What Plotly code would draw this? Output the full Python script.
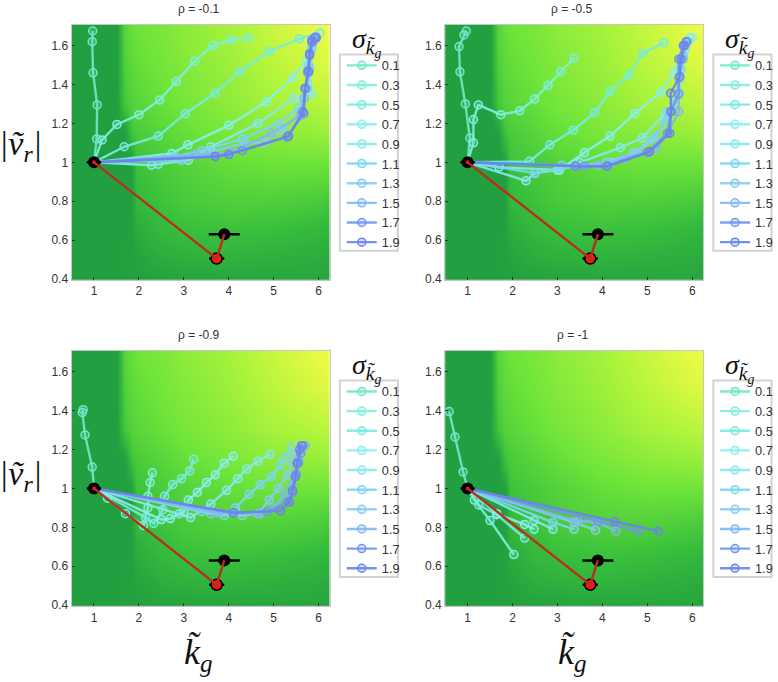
import plotly.graph_objects as go

W, H = 778, 682
sigma_labels = ["0.1","0.3","0.5","0.7","0.9","1.1","1.3","1.5","1.7","1.9"]
sigma_colors = ["#6fe8c8","#80eedc","#78ebe0","#8aeef0","#88e8f0","#7cd6f2","#88ccf2","#82b8f2","#7096ee","#6a84e8"]
rho_titles = ["ρ = -0.1","ρ = -0.5","ρ = -0.9","ρ = -1"]

bg_x = [0.5,1.5,1.68,1.83,1.95,2.5,3,4,5,6,6.25]
bg_y = [0.39,0.5,0.65,0.8,1.0,1.15,1.3,1.5,1.71]
bg_z = [
 [.03,.03,.03,.03,.04,.05,.06,.07,.08,.08,.06],
 [.03,.03,.04,.05,.06,.12,.14,.16,.14,.12,.10],
 [.03,.03,.03,.04,.12,.20,.24,.26,.24,.20,.18],
 [.03,.03,.03,.04,.20,.27,.32,.36,.36,.33,.30],
 [.03,.03,.03,.04,.27,.33,.38,.46,.50,.50,.50],
 [.03,.03,.03,.28,.33,.40,.46,.55,.62,.66,.68],
 [.03,.03,.30,.38,.40,.47,.53,.62,.72,.78,.80],
 [.03,.03,.36,.42,.45,.52,.58,.68,.80,.90,.93],
 [.03,.03,.40,.47,.50,.55,.62,.72,.85,.98,1.0],
]
bg_scale = [[0,"#1f9a40"],[.25,"#39c03c"],[.5,"#6fe43a"],[.75,"#aef43c"],[1,"#f2fb45"]]

kg_a = [
 [1,1.06,1.07,.98,.96,.97],
 [1,1.18,1.51,2,2.46,2.83,3.24,3.65,4.05,4.44],
 [1,1.67,2.43,3.03,3.69,4.24,4.9,5.57,6.03],
 [1,2.73,3.09,4.0,4.83,5.43,5.74,5.9],
 [1,2.28,2.43,3.1,3.6,4.65,5.45,5.85,5.8,5.85,5.9],
 [1,2.8,3.4,4.3,5.1,5.55,5.72,5.78,5.85,5.95],
 [1,2.95,3.55,4.35,4.8,5.2,5.58,5.75,5.8,5.85,5.9],
 [1,3.25,4.05,4.95,5.6,5.68,5.75,5.8,5.88,5.93],
 [1,3.7,4.3,5.3,5.67,5.7,5.76,5.8,5.85,5.95],
 [1,3.7,4.0,5.33,5.65,5.7,5.78,5.8,5.85,5.92],
]
vr_a = [
 [1,1.12,1.295,1.46,1.62,1.675],
 [1,1.115,1.195,1.245,1.32,1.415,1.52,1.6,1.63,1.64],
 [1,1.08,1.135,1.25,1.355,1.465,1.57,1.635,1.665],
 [1,1.045,1.09,1.19,1.31,1.435,1.53,1.63],
 [1,.985,.99,1.01,1.08,1.2,1.33,1.35,1.48,1.6,1.64],
 [1,1.03,1.06,1.12,1.2,1.28,1.38,1.5,1.6,1.64],
 [1,1.01,1.05,1.1,1.1,1.17,1.25,1.38,1.48,1.58,1.64],
 [1,1.04,1.05,1.15,1.24,1.33,1.46,1.56,1.62,1.645],
 [1,1.03,1.06,1.13,1.25,1.38,1.47,1.56,1.63,1.64],
 [1,1.03,1.04,1.135,1.26,1.38,1.465,1.55,1.62,1.64],
]
kg_b = [
 [1,1.05,.95,.83,.81,.92,.97],
 [1,1.13,1.13,1.24,1.74,2.16,2.49,2.79,3.07,3.37],
 [1,2.38,2.83,3.35,3.83,4.17,4.59,4.9,5.37],
 [1,1.7,3.05,3.6,4.17,4.72,5.3,5.6,5.85,6.0],
 [1,2.3,2.5,3.0,3.5,4.4,4.88,5.4,5.7,5.75,5.85,5.95],
 [1,2.5,3.4,4.1,4.7,5.1,5.42,5.6,5.72,5.8,5.9],
 [1,3.1,3.6,4.2,4.75,5.2,5.45,5.7,5.75,5.85],
 [1,3.4,3.9,4.5,5.2,5.45,5.7,5.7,5.8,5.87],
 [1,3.6,4.12,5.0,5.45,5.52,5.7,5.7,5.8],
 [1,3.4,4.1,5.05,5.5,5.53,5.52,5.72,5.75,5.82,5.87],
]
vr_b = [
 [1,1.125,1.3,1.465,1.595,1.655,1.675],
 [1,1.1,1.22,1.295,1.245,1.265,1.325,1.395,1.465,1.535],
 [1,1.005,1.09,1.165,1.255,1.365,1.45,1.56,1.615],
 [1,.975,.96,1.05,1.135,1.25,1.36,1.465,1.6,1.64],
 [1,.905,.945,.96,1.0,1.075,1.125,1.25,1.35,1.47,1.58,1.64],
 [1,.945,.98,1.0,1.05,1.12,1.21,1.3,1.43,1.55,1.62],
 [1,.985,.98,1.0,1.05,1.13,1.26,1.36,1.48,1.6],
 [1,.98,.985,1.02,1.07,1.15,1.26,1.43,1.53,1.62],
 [1,.98,.98,1.05,1.15,1.26,1.35,1.53,1.6],
 [1,.98,.98,1.055,1.15,1.26,1.355,1.44,1.53,1.6,1.62],
]
kg_c = [
 [1,.96,.8,.74,.76],
 [1,1.3,1.7,2.1,2.2,2.2,2.25,2.3],
 [1,2.15,2.33,2.53,2.57,2.75,2.95,3.13,3.22],
 [1,2.5,2.7,3.0,3.1,3.3,3.5,3.7,3.9,4.1],
 [1,2.9,3.15,3.6,3.95,4.2,4.4,4.65,4.92],
 [1,3.4,3.9,4.15,4.45,4.7,4.95,5.15,5.25,5.4],
 [1,3.6,4.3,4.65,4.9,5.1,5.3,5.42,5.5,5.62],
 [1,3.75,4.7,5.0,5.25,5.4,5.5,5.55,5.6,5.7],
 [1,4.1,4.85,5.3,5.42,5.5,5.55,5.6,5.65],
 [1,4.1,5.15,5.35,5.42,5.48,5.52,5.58,5.62],
]
vr_c = [
 [1,1.11,1.275,1.39,1.405],
 [1,.95,.87,.81,.9,.96,1.03,1.08],
 [1,.85,.82,.89,.96,1.02,1.05,1.09,1.15],
 [1,.84,.845,.88,.94,.98,1.03,1.07,1.13,1.165],
 [1,.87,.85,.92,.99,1.05,1.1,1.14,1.175],
 [1,.88,.86,.9,.97,1.02,1.06,1.12,1.16,1.21],
 [1,.87,.86,.87,.94,1.0,1.07,1.14,1.18,1.22],
 [1,.875,.87,.9,.97,1.02,1.08,1.15,1.2,1.22],
 [1,.875,.88,.93,.98,1.07,1.13,1.18,1.22],
 [1,.875,.885,.93,.99,1.06,1.13,1.2,1.22],
]
kg_d = [
 [1,.9,.72,.59],
 [1,1.15,1.5,2.03],
 [1,1.25,1.65,2.27],
 [1,1.65,2.27,2.48],
 [1,2.48,2.9],
 [1,2.9,3.37],
 [1,3.37,3.85],
 [1,3.45,3.85,4.3],
 [1,3.9,4.8],
 [1,4.28,5.25],
]
vr_d = [
 [1,1.085,1.265,1.395],
 [1,.94,.835,.66],
 [1,.915,.865,.745],
 [1,.87,.815,.79],
 [1,.835,.79],
 [1,.825,.79],
 [1,.825,.785],
 [1,.83,.83,.78],
 [1,.83,.78],
 [1,.83,.78],
]
panels_kg = [kg_a, kg_b, kg_c, kg_d]
panels_vr = [vr_a, vr_b, vr_c, vr_d]

path_kg = [1, 3.73, 3.9]
path_vr = [1, 0.505, 0.63]
path_err = [0.16, 0.17, 0.345]

x_ticks = [1,2,3,4,5,6]
x_ticktext = ["1","2","3","4","5","6"]
y_ticks = [0.4,0.6,0.8,1,1.2,1.4,1.6]
y_ticktext = ["0.4","0.6","0.8","1","1.2","1.4","1.6"]

lefts = [72, 448]
tops = [25, 354]
pw, ph = 260, 257.5

def rgba(c, a):
    return f"rgba({int(c[1:3],16)},{int(c[3:5],16)},{int(c[5:7],16)},{a})"

fig = go.Figure()
layout = dict(width=W, height=H, autosize=False, margin=dict(l=0,r=0,t=0,b=0),
              paper_bgcolor="white", plot_bgcolor="white",
              font=dict(family="Liberation Sans", color="#333"), annotations=[], shapes=[])

for i in range(4):
    col, row = i % 2, i // 2
    L, T = lefts[col], tops[row]
    sfx = "" if i == 0 else str(i+1)
    xa, ya = f"x{sfx}", f"y{sfx}"
    common = dict(showgrid=False, zeroline=False, showline=True, mirror=True, linecolor="#c4c8c4",
                  linewidth=1, ticks="inside", ticklen=3, tickcolor="#333",
                  tickfont=dict(size=12, family="Liberation Sans", color="#333"), tickmode="array")
    layout[f"xaxis{sfx}"] = dict(domain=[L/W,(L+pw)/W], range=[0.5,6.25], anchor=ya,
                                 tickvals=x_ticks, ticktext=x_ticktext, **common)
    layout[f"yaxis{sfx}"] = dict(domain=[1-(T+ph)/H,1-T/H], range=[0.395,1.707], anchor=xa,
                                 tickvals=y_ticks, ticktext=y_ticktext, **common)
    fig.add_trace(go.Heatmap(x=bg_x, y=bg_y, z=bg_z, colorscale=bg_scale, zmin=0, zmax=1, zsmooth="best",
                             showscale=False, hoverinfo="skip", xaxis=xa, yaxis=ya))
    leg = "legend" if i == 0 else f"legend{i+1}"
    for s, name in enumerate(sigma_labels):
        fig.add_trace(go.Scatter(x=panels_kg[i][s], y=panels_vr[i][s], name=name, mode="lines+markers",
                                 line=dict(color=rgba(sigma_colors[s],.9), width=2.4),
                                 marker=dict(size=8, color=rgba(sigma_colors[s],.25),
                                             line=dict(color=sigma_colors[s], width=1.5)),
                                 xaxis=xa, yaxis=ya, legend=leg))
    fig.add_trace(go.Scatter(x=path_kg[:1]+path_kg[2:], y=path_vr[:1]+path_vr[2:], mode="markers",
                             error_x=dict(type="data", array=path_err[:1]+path_err[2:], width=0, color="black", thickness=2.5),
                             marker=dict(size=12, color="black"), showlegend=False, xaxis=xa, yaxis=ya))
    fig.add_trace(go.Scatter(x=path_kg[1:2], y=path_vr[1:2], mode="markers",
                             error_x=dict(type="data", array=path_err[1:2], width=0, color="black", thickness=2.5),
                             marker=dict(size=11, color="#f01818", line=dict(color="black", width=1.5)),
                             showlegend=False, xaxis=xa, yaxis=ya))
    fig.add_trace(go.Scatter(x=path_kg, y=path_vr, mode="lines", line=dict(color="#b8301c", width=2.4),
                             showlegend=False, xaxis=xa, yaxis=ya))
    fig.add_trace(go.Scatter(x=path_kg[:1], y=path_vr[:1], mode="markers", marker=dict(size=4, color="#d02018"),
                             showlegend=False, xaxis=xa, yaxis=ya))
    lx = (342 if col == 0 else 718)
    ly = (55 if row == 0 else 384)
    layout["shapes"].append(dict(type="rect", xref="paper", yref="paper", x0=lx/W, x1=(lx+58.5)/W,
                                 y0=1-(ly+198)/H, y1=1-ly/H, fillcolor="white",
                                 line=dict(color="#cfd3d6", width=2), layer="below"))
    layout[leg] = dict(x=(lx+2)/W, xanchor="left", y=1-(ly-4)/H, yanchor="top", bgcolor="rgba(0,0,0,0)", borderwidth=0,
                       font=dict(size=12.8, family="Liberation Sans", color="#333"),
                       itemwidth=30, tracegroupgap=0, entrywidth=14, entrywidthmode="pixels")
    layout["annotations"].append(dict(xref="paper", yref="paper", x=(L+pw/2-2)/W, y=1-(9 if row==0 else 338)/H,
                                      text=rho_titles[i], showarrow=False, xanchor="center", yanchor="middle",
                                      font=dict(size=12, color="#333")))
    layout["annotations"].append(dict(xref="paper", yref="paper", x=(lx+27)/W, y=1-(ly-13)/H,
                                      text="<i>σ<sub>k̃<sub>g</sub></sub></i>", showarrow=False, xanchor="center", yanchor="middle",
                                      font=dict(size=28, family="Liberation Serif", color="#111")))
    if col == 0:
        layout["annotations"].append(dict(xref="paper", yref="paper", x=21/W, y=1-(147 if row == 0 else 480)/H,
                                          text="<i>|ṽ<sub>r</sub>|</i>", showarrow=False, xanchor="center", yanchor="middle",
                                          font=dict(size=34, family="Liberation Serif", color="#111")))
    if row == 1:
        layout["annotations"].append(dict(xref="paper", yref="paper", x=(L+128)/W, y=1-660/H,
                                          text="<i>k̃<sub>g</sub></i>", showarrow=False, xanchor="center", yanchor="middle",
                                          font=dict(size=36, family="Liberation Serif", color="#111")))

fig.update_layout(**layout)
fig.write_html("out.html", config=dict(displayModeBar=False),
               post_script="document.body.style.margin='0';document.documentElement.style.overflow='hidden';")
